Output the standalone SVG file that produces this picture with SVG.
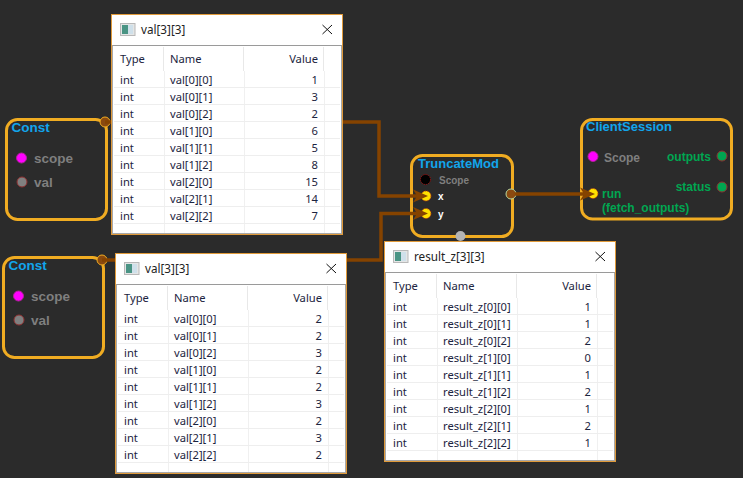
<svg xmlns="http://www.w3.org/2000/svg" width="743" height="478" viewBox="0 0 743 478">
<style>
.nb{fill:#2b2b2b;stroke:#f0ac22;stroke-width:3}
.t{font:bold 13.5px "Liberation Sans",Arial,sans-serif;fill:#12a5ec}
.t2{font:bold 13px "Liberation Sans",Arial,sans-serif;fill:#12a5ec}
.pl{font:bold 13.5px "Liberation Sans",Arial,sans-serif;fill:#7f7f7f}
.gl{font:bold 12px "Liberation Sans",Arial,sans-serif;fill:#00a651}
.wl{font:bold 10px "Liberation Sans",Arial,sans-serif;fill:#fff}
.w{fill:none;stroke:#854300;stroke-width:3.5}
.mg{fill:#ff00ff;stroke:#b3209a}
.gy{fill:#808080;stroke:#8f3030}
.gn{fill:#00a651;stroke:#8f3030}
.op{fill:#8a4a10;stroke:#f0ac22}
.ip{fill:#ffe000;stroke:#c03010;stroke-dasharray:1 1}
.tx{font:11.2px "Noto Sans","Open Sans",sans-serif;fill:#1c2440}
.v{text-anchor:end}
.ttl{font:11.7px "Noto Sans","Open Sans",sans-serif;fill:#222}
</style>
<defs>
<path id="ah" d="M-15 -6.500L0 0L-15 6.500L-11 0Z" fill="#854300"/>
<g id="win">
<rect x="111.5" y="14.5" width="231" height="220" fill="#fff" stroke="#e09a3a" stroke-width="1"/>
<path d="M112 45.5H342" stroke="#9a9a9a" fill="none"/>
<path d="M112.5 45.5V234M341.5 45.5V234M112 233.5H342" stroke="#a8a8a8" fill="none"/>
<rect x="120.5" y="23.5" width="14.500" height="12" fill="#e4e6e6" stroke="#b8b8b8"/>
<rect x="122" y="25" width="6" height="9" fill="#4a9484"/>
<rect x="128" y="25" width="5" height="9" fill="#cfe0ea"/>
<path d="M322.5 25L332 34M332 25L322.5 34" stroke="#111" stroke-width="1" fill="none"/>
<path d="M163.5 47V71M243.5 47V71M323.5 47V71" stroke="#e8e8e8" fill="none"/>
<path d="M164.5 71V233M244.5 71V233M324.5 71V233" stroke="#f0f0f0" fill="none"/>
<path d="M114 87.5H340M114 104.5H340M114 121.5H340M114 138.5H340M114 155.5H340M114 172.5H340M114 189.5H340M114 206.5H340M114 223.5H340" stroke="#eeeeee" fill="none"/>
</g>
</defs>
<rect width="743" height="478" fill="#2b2b2b"/>
<g id="const1">
<rect class="nb" x="6.5" y="119.5" width="100" height="100" rx="11"/>
<text class="t" x="11.5" y="132">Const</text>
<circle class="mg" cx="21.5" cy="158" r="5"/>
<text class="pl" x="34" y="163">scope</text>
<circle class="gy" cx="22" cy="182" r="5"/>
<text class="pl" x="34" y="187">val</text>
<circle class="op" cx="105" cy="122" r="5"/>
</g>
<g id="const2">
<rect class="nb" x="3.5" y="257.5" width="100" height="100" rx="11"/>
<text class="t" x="8.5" y="270">Const</text>
<circle class="mg" cx="18.5" cy="296" r="5"/>
<text class="pl" x="31" y="301">scope</text>
<circle class="gy" cx="19" cy="320" r="5"/>
<text class="pl" x="31" y="325">val</text>
<circle class="op" cx="102" cy="260" r="5"/>
</g>
<g id="truncatemod">
<rect class="nb" x="411.5" y="155.5" width="101" height="81" rx="11"/>
<text class="t2" x="418" y="167.500">TruncateMod</text>
<circle cx="425.5" cy="179.5" r="5" fill="#000" stroke="#b01010" stroke-dasharray="1 1"/>
<text class="pl" x="439" y="183.500" style="font-size:10px">Scope</text>
<circle class="ip" cx="426" cy="196" r="5"/>
<text class="wl" x="438" y="200">x</text>
<circle class="ip" cx="426" cy="213.500" r="5"/>
<text class="wl" x="438" y="218">y</text>
<circle cx="511" cy="194" r="5" fill="#8a4a10" stroke="#b8d8a0"/>
<circle cx="460.500" cy="236" r="5" fill="#b4b4b4"/>
</g>
<g id="clientsession">
<rect class="nb" x="581.500" y="119.500" width="150" height="99.500" rx="11"/>
<text class="t2" x="586" y="131">ClientSession</text>
<circle class="mg" cx="593" cy="156.500" r="5"/>
<text class="pl" x="604" y="162" style="font-size:12px">Scope</text>
<text class="gl" x="711" y="161" text-anchor="end">outputs</text>
<circle class="gn" cx="722" cy="156" r="5"/>
<text class="gl" x="711" y="191" text-anchor="end">status</text>
<circle class="gn" cx="722" cy="187" r="5"/>
<circle class="ip" cx="593" cy="193.500" r="5"/>
<text class="gl" x="602" y="198">run</text>
<text class="gl" x="602" y="212">(fetch_outputs)</text>
</g>
<g id="connectors">
<path class="w" d="M105 122H379V196H420"/>
<use href="#ah" x="428" y="196"/>
<path class="w" d="M102 260H381V213.500H420"/>
<use href="#ah" x="428" y="213.500"/>
<path class="w" d="M511 194H587"/>
<use href="#ah" x="595" y="194"/>
<circle cx="511" cy="194" r="4" fill="#8a4a10"/>
</g>
<g id="table1">
<use href="#win"/>
<text class="ttl" x="141" y="34">val[3][3]</text>
<g>
<text class="tx" x="120" y="63">Type</text><text class="tx" x="170" y="63">Name</text><text class="tx v" x="318" y="63">Value</text>
<text class="tx" x="120" y="84">int</text><text class="tx" x="170" y="84">val[0][0]</text><text class="tx v" x="318" y="84">1</text>
<text class="tx" x="120" y="101">int</text><text class="tx" x="170" y="101">val[0][1]</text><text class="tx v" x="318" y="101">3</text>
<text class="tx" x="120" y="118">int</text><text class="tx" x="170" y="118">val[0][2]</text><text class="tx v" x="318" y="118">2</text>
<text class="tx" x="120" y="135">int</text><text class="tx" x="170" y="135">val[1][0]</text><text class="tx v" x="318" y="135">6</text>
<text class="tx" x="120" y="152">int</text><text class="tx" x="170" y="152">val[1][1]</text><text class="tx v" x="318" y="152">5</text>
<text class="tx" x="120" y="169">int</text><text class="tx" x="170" y="169">val[1][2]</text><text class="tx v" x="318" y="169">8</text>
<text class="tx" x="120" y="186">int</text><text class="tx" x="170" y="186">val[2][0]</text><text class="tx v" x="318" y="186">15</text>
<text class="tx" x="120" y="203">int</text><text class="tx" x="170" y="203">val[2][1]</text><text class="tx v" x="318" y="203">14</text>
<text class="tx" x="120" y="220">int</text><text class="tx" x="170" y="220">val[2][2]</text><text class="tx v" x="318" y="220">7</text>
</g>
</g>
<g id="table2" transform="translate(4 239)">
<use href="#win"/>
<text class="ttl" x="141" y="34">val[3][3]</text>
<g>
<text class="tx" x="120" y="63">Type</text><text class="tx" x="170" y="63">Name</text><text class="tx v" x="318" y="63">Value</text>
<text class="tx" x="120" y="84">int</text><text class="tx" x="170" y="84">val[0][0]</text><text class="tx v" x="318" y="84">2</text>
<text class="tx" x="120" y="101">int</text><text class="tx" x="170" y="101">val[0][1]</text><text class="tx v" x="318" y="101">2</text>
<text class="tx" x="120" y="118">int</text><text class="tx" x="170" y="118">val[0][2]</text><text class="tx v" x="318" y="118">3</text>
<text class="tx" x="120" y="135">int</text><text class="tx" x="170" y="135">val[1][0]</text><text class="tx v" x="318" y="135">2</text>
<text class="tx" x="120" y="152">int</text><text class="tx" x="170" y="152">val[1][1]</text><text class="tx v" x="318" y="152">2</text>
<text class="tx" x="120" y="169">int</text><text class="tx" x="170" y="169">val[1][2]</text><text class="tx v" x="318" y="169">3</text>
<text class="tx" x="120" y="186">int</text><text class="tx" x="170" y="186">val[2][0]</text><text class="tx v" x="318" y="186">2</text>
<text class="tx" x="120" y="203">int</text><text class="tx" x="170" y="203">val[2][1]</text><text class="tx v" x="318" y="203">3</text>
<text class="tx" x="120" y="220">int</text><text class="tx" x="170" y="220">val[2][2]</text><text class="tx v" x="318" y="220">2</text>
</g>
</g>
<g id="table3" transform="translate(273 227)">
<use href="#win"/>
<text class="ttl" x="141" y="34">result_z[3][3]</text>
<g>
<text class="tx" x="120" y="63">Type</text><text class="tx" x="170" y="63">Name</text><text class="tx v" x="318" y="63">Value</text>
<text class="tx" x="120" y="84">int</text><text class="tx" x="170" y="84">result_z[0][0]</text><text class="tx v" x="318" y="84">1</text>
<text class="tx" x="120" y="101">int</text><text class="tx" x="170" y="101">result_z[0][1]</text><text class="tx v" x="318" y="101">1</text>
<text class="tx" x="120" y="118">int</text><text class="tx" x="170" y="118">result_z[0][2]</text><text class="tx v" x="318" y="118">2</text>
<text class="tx" x="120" y="135">int</text><text class="tx" x="170" y="135">result_z[1][0]</text><text class="tx v" x="318" y="135">0</text>
<text class="tx" x="120" y="152">int</text><text class="tx" x="170" y="152">result_z[1][1]</text><text class="tx v" x="318" y="152">1</text>
<text class="tx" x="120" y="169">int</text><text class="tx" x="170" y="169">result_z[1][2]</text><text class="tx v" x="318" y="169">2</text>
<text class="tx" x="120" y="186">int</text><text class="tx" x="170" y="186">result_z[2][0]</text><text class="tx v" x="318" y="186">1</text>
<text class="tx" x="120" y="203">int</text><text class="tx" x="170" y="203">result_z[2][1]</text><text class="tx v" x="318" y="203">2</text>
<text class="tx" x="120" y="220">int</text><text class="tx" x="170" y="220">result_z[2][2]</text><text class="tx v" x="318" y="220">1</text>
</g>
</g>
</svg>
